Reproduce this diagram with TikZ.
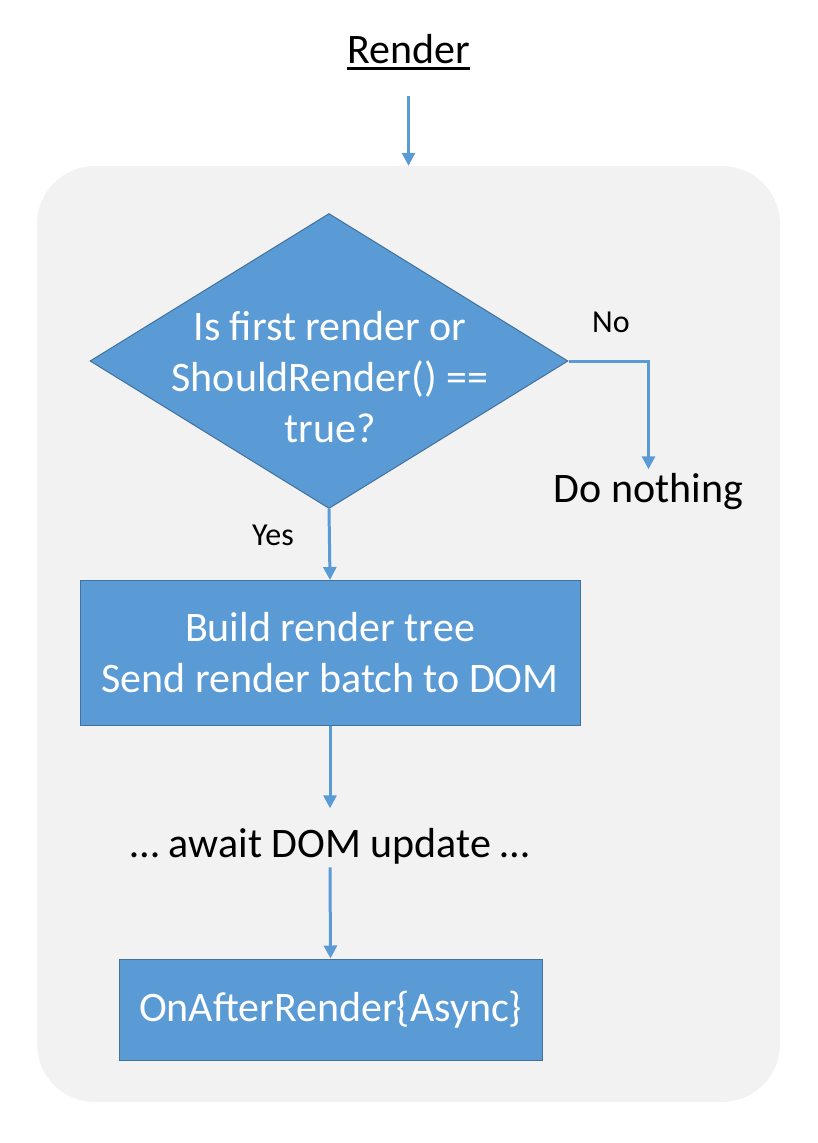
\documentclass[tikz,border=0pt]{standalone}
\usepackage{fontspec}
\setmainfont{Carlito}
\usetikzlibrary{shapes.geometric,arrows.meta}
\definecolor{boxblue}{HTML}{5B9BD5}
\definecolor{edgeblue}{HTML}{41719C}
\definecolor{panelgrey}{HTML}{F2F2F2}
\tikzset{
  big/.style={font=\fontsize{42}{51}\selectfont},
  small/.style={font=\fontsize{32}{38}\selectfont},
  flow/.style={draw=boxblue, line width=3pt, -{Triangle[length=13pt,width=13pt]}},
  blockbox/.style={rectangle, draw=edgeblue, line width=1pt, fill=boxblue,
    text=white, big, align=center, inner sep=0pt},
  decision/.style={diamond, draw=edgeblue, line width=1pt, fill=boxblue,
    inner sep=0pt, minimum width=478pt, minimum height=295pt},
  panel/.style={rectangle, rounded corners=58pt, fill=panelgrey, inner sep=0pt}
}
\begin{document}
\begin{tikzpicture}[x=1pt,y=-1pt]
  \useasboundingbox (0,0) rectangle (818,1143);
  \node[panel, minimum width=743pt, minimum height=936pt] (panel) at (408.5,634) {};
  \node[big, anchor=base, inner sep=0pt] (title) at (408.5,63) {Render};
  \draw[line width=3pt] ([yshift=-5pt]title.base west) -- ([yshift=-5pt]title.base east);
  \node[decision] (dec) at (329,361) {};
  \node[big, text=white, align=center] (q) at (330,377) {Is first render or\\ShouldRender() ==\\true?};
  \node[small, anchor=base] (no) at (611,332) {No};
  \node[big, anchor=base] (nothing) at (648.5,502) {Do nothing};
  \node[small, anchor=base] (yes) at (273,545) {Yes};
  \node[blockbox, minimum width=500pt, minimum height=145pt] (build) at (330,653)
    {Build render tree\\Send render batch to DOM};
  \node[big, anchor=base] (await) at (330,857) {… await DOM update …};
  \node[blockbox, minimum width=423pt, minimum height=101pt] (after) at (330.5,1009.5)
    {OnAfterRender\{Async\}};
  % connectors
  \draw[flow] ([yshift=-33pt]title.base) -- (title.base |- panel.north);
  \draw[flow] (dec.east) -| (nothing.north);
  \draw[flow] (dec.south) -- (build.north);
  \draw[flow] (build.south) -- ([yshift=16pt]await.north);
  \draw[flow] (await.south) -- (after.north);
\end{tikzpicture}
\end{document}
